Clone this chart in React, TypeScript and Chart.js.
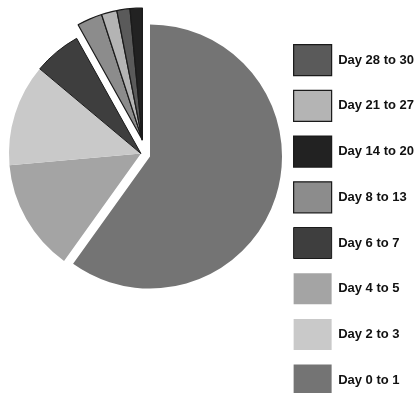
import React, { useEffect, useRef } from "react";
import { Chart, registerables } from "chart.js";

Chart.register(...registerables);

// Slices in clockwise order from 12 o'clock, as drawn in the reference
const sliceLabels = [
  "Day 0 to 1",
  "Day 4 to 5",
  "Day 2 to 3",
  "Day 6 to 7",
  "Day 8 to 13",
  "Day 21 to 27",
  "Day 28 to 30",
  "Day 14 to 20",
];
const sliceValues = [59.9, 13.7, 12.5, 5.8, 3.1, 1.9, 1.6, 1.5];

// Styles
const sliceColors = [
  "#747474",
  "#a4a4a4",
  "#c9c9c9",
  "#3e3e3e",
  "#8c8c8c",
  "#b4b4b4",
  "#5a5a5a",
  "#222222",
];
const sliceBorderWidths = [0, 0, 0, 1, 1.2, 1.2, 1.2, 1.2];
// explode distance (px) and direction (deg clockwise from 12 o'clock; null = slice's own middle)
const explodeDistance = [9.5, 0, 0, 0, 13.6, 13.6, 13.6, 13.6];
const explodeAngle: (number | null)[] = [null, null, null, null, 6, 6, 6, 6];

// Legend order, top to bottom
const legendOrder = [
  "Day 28 to 30",
  "Day 21 to 27",
  "Day 14 to 20",
  "Day 8 to 13",
  "Day 6 to 7",
  "Day 4 to 5",
  "Day 2 to 3",
  "Day 0 to 1",
];

// Explode slices as groups (several slices moved together, sharing one vertex)
const groupExplode = {
  id: "groupExplode",
  afterDatasetsUpdate(chart: any) {
    const meta = chart.getDatasetMeta(0);
    meta.data.forEach((arc: any, i: number) => {
      const d = explodeDistance[i] || 0;
      if (!d) return;
      const a = explodeAngle[i];
      let dx: number, dy: number;
      if (a === null || a === undefined) {
        const mid = (arc.startAngle + arc.endAngle) / 2;
        dx = Math.cos(mid) * d;
        dy = Math.sin(mid) * d;
      } else {
        const r = (a * Math.PI) / 180;
        dx = Math.sin(r) * d;
        dy = -Math.cos(r) * d;
      }
      arc.x = arc.x + dx;
      arc.y = arc.y + dy;
    });
  },
};

export default function App() {
  const ref = useRef<HTMLCanvasElement | null>(null);

  useEffect(() => {
    if (!ref.current) return;
    const chart = new Chart(ref.current, {
      type: "pie",
      data: {
        labels: sliceLabels,
        datasets: [
          {
            data: sliceValues,
            backgroundColor: sliceColors,
            borderColor: "#1a1a1a",
            borderWidth: sliceBorderWidths,
            radius: 132,
          } as any,
        ],
      },
      options: {
        responsive: false,
        animation: false,
        layout: { padding: { top: 30, left: 3, right: 0, bottom: 0 } },
        plugins: {
          tooltip: { enabled: false },
          title: {
            display: true,
            position: "bottom",
            text: "",
            font: { size: 12 },
            padding: { top: 0, bottom: 128.4 },
          },
          legend: {
            display: true,
            position: "right",
            align: "start",
            labels: {
              boxWidth: 38,
              boxHeight: 31,
              padding: 14.7,
              color: "#111",
              font: { family: "'Liberation Sans', Arial, sans-serif", size: 13, weight: "bold" },
              sort: (a: any, b: any) => legendOrder.indexOf(a.text) - legendOrder.indexOf(b.text),
            },
          },
        },
      },
      plugins: [groupExplode],
    });
    return () => chart.destroy();
  }, []);

  return (
    <div
      style={{
        position: "fixed",
        left: 0,
        top: 0,
        width: 417,
        height: 393,
        overflow: "hidden",
        background: "#ffffff",
      }}
    >
      <canvas ref={ref} width={424} height={420} />
    </div>
  );
}
